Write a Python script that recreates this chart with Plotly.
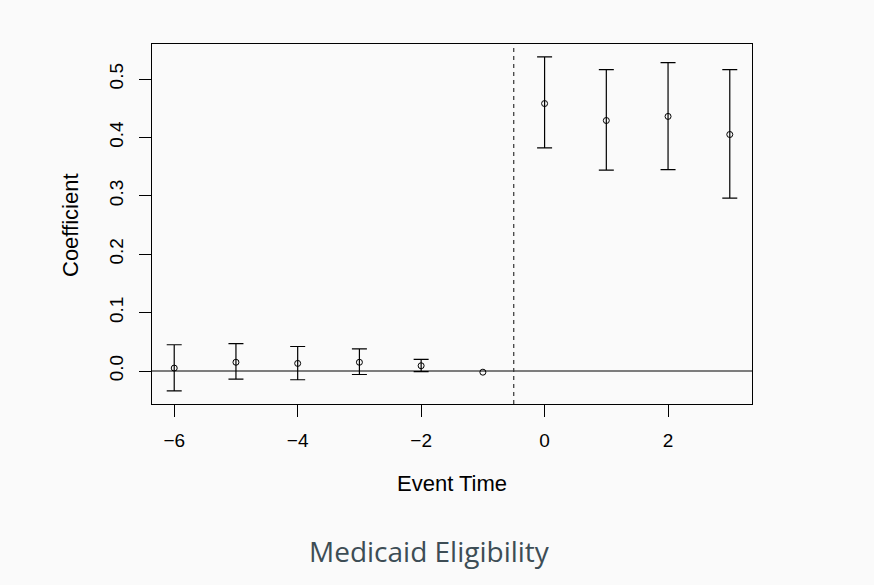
import plotly.graph_objects as go

event_time = [-6, -5, -4, -3, -2, -1, 0, 1, 2, 3]
coef = [0.005, 0.015, 0.013, 0.015, 0.009, -0.002, 0.458, 0.429, 0.436, 0.405]
upper = [0.045, 0.047, 0.042, 0.038, 0.020, None, 0.538, 0.516, 0.528, 0.516]
lower = [-0.034, -0.014, -0.015, -0.006, -0.001, None, 0.382, 0.344, 0.345, 0.296]
x_ticks = [-6, -4, -2, 0, 2]
y_ticks = [0.0, 0.1, 0.2, 0.3, 0.4, 0.5]
title_x = "Event Time"
title_y = "Coefficient"
caption = "Medicaid Eligibility"

bx = [t for t, u in zip(event_time, upper) if u is not None]
by = [c for c, u in zip(coef, upper) if u is not None]
bu = [u - c for c, u in zip(coef, upper) if u is not None]
bl = [c - l for c, l in zip(coef, lower) if l is not None]
rx = [t for t, u in zip(event_time, upper) if u is None]
ry = [c for c, u in zip(coef, upper) if u is None]

BG = "#fafafa"
fig = go.Figure()
fig.add_trace(go.Scatter(
    x=bx, y=by, mode="markers",
    marker=dict(symbol="circle-open", size=6, color="black", line=dict(width=1, color="black")),
    error_y=dict(type="data", symmetric=False, array=bu, arrayminus=bl,
                 color="black", thickness=1.2, width=7.5),
    showlegend=False, hoverinfo="skip"))
fig.add_trace(go.Scatter(
    x=rx, y=ry, mode="markers",
    marker=dict(symbol="circle-open", size=6, color="black", line=dict(width=1, color="black")),
    showlegend=False, hoverinfo="skip"))

fig.add_hline(y=0, line=dict(color="black", width=1.1))
fig.add_vline(x=-0.5, line=dict(color="#333333", width=1.2, dash="4px,4px"))

W, H = 874, 585
L, R, T, B = 152, 122, 44, 181
pw, ph = W - L - R, H - T - B
SANS = "Liberation Sans, Arial, sans-serif"

fig.update_layout(
    width=W, height=H,
    margin=dict(l=L, r=R, t=T, b=B, pad=0),
    paper_bgcolor=BG, plot_bgcolor=BG,
    font=dict(family=SANS, size=19, color="black"),
    xaxis=dict(range=[-6.36, 3.36], tickvals=x_ticks, ticks="outside", ticklen=12,
               tickcolor="black", tickwidth=1, showgrid=False, zeroline=False,
               showline=True, mirror=True, linecolor="black", linewidth=1,
               ticklabelstandoff=7, tickfont=dict(size=19)),
    yaxis=dict(range=[-0.0565, 0.56], tickvals=y_ticks, tickformat=".1f", ticks="outside",
               ticklen=12, tickcolor="black", tickwidth=1, showgrid=False, zeroline=False,
               showline=True, mirror=True, linecolor="black", linewidth=1,
               tickangle=-90, ticklabelstandoff=8, tickfont=dict(size=19)),
    annotations=[
        dict(text=title_x, xref="paper", yref="paper", x=(452 - L) / pw, y=-79 / ph,
             xanchor="center", yanchor="middle", showarrow=False,
             font=dict(size=22, family=SANS)),
        dict(text=title_y, xref="paper", yref="paper", x=-82 / pw, y=(404 - 225) / ph,
             xanchor="center", yanchor="middle", textangle=-90, showarrow=False,
             font=dict(size=22, family=SANS)),
        dict(text=caption, xref="paper", yref="paper", x=(429 - L) / pw, y=-147 / ph,
             xanchor="center", yanchor="middle", showarrow=False,
             font=dict(size=28, family="Open Sans, Noto Sans, sans-serif", color="#3d4d55")),
    ],
)

fig.write_html(
    "out.html",
    config={"displayModeBar": False},
    post_script="document.body.style.margin='0';document.body.style.padding='0';"
                "document.body.style.background='#fafafa';"
                "document.documentElement.style.background='#fafafa';",
)
